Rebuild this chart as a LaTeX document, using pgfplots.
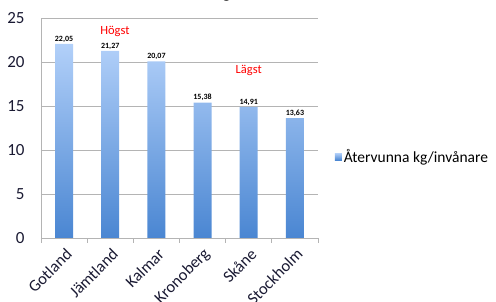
\documentclass[border=0pt]{standalone}
\usepackage{pgfplots}
\pgfplotsset{compat=1.18}
\usepackage{fontspec}
\setmainfont{Carlito}
\definecolor{barTop}{HTML}{B2D0F9}
\definecolor{barBot}{HTML}{4A86D2}
\definecolor{gridc}{HTML}{B4B4B4}
\definecolor{tickc}{HTML}{1A1A33}
\begin{document}
\begin{tikzpicture}[x=1pt,y=1pt]
\useasboundingbox (-41,-64) rectangle (455,238);
\begin{axis}[
  at={(0,0)}, anchor=south west,
  scale only axis, width=277pt, height=220pt,
  xmin=-0.5, xmax=5.5, ymin=0, ymax=25,
  ytick={0,5,...,25},
  ymajorgrids, grid style={gridc, line width=0.8pt},
  axis x line=bottom, axis y line=left,
  axis line style={gridc, line width=0.8pt, -},
  xtick={0,...,5},
  xticklabels={Gotland,Jämtland,Kalmar,Kronoberg,Skåne,Stockholm},
  major x tick style={draw=none},
  minor xtick={-0.5,0.5,...,5.5},
  minor x tick style={gridc, line width=0.8pt},
  minor tick length=5pt,
  tick align=outside,
  major y tick style={draw=none},
  /pgf/number format/assume math mode=true,
  yticklabel style={font=\fontsize{17}{17}\selectfont, text=tickc, inner sep=0pt, xshift=-12pt},
  xticklabel style={font=\fontsize{16.5}{16.5}\selectfont, text=tickc, rotate=45, anchor=east, inner sep=0pt, xshift=-3pt, yshift=-10pt},
  legend style={at={(1.06,0.37)}, anchor=west, draw=none, fill=none, font=\fontsize{15.5}{15.5}\selectfont, inner sep=0pt},
  legend image code/.code={\fill[barBot!75!barTop] (0pt,-3.5pt) rectangle (7pt,3.5pt);},
  clip=false,
]
\addplot[ybar, bar width=18pt, draw=none, top color=barTop, bottom color=barBot, shading=axis,
  nodes near coords,
  every node near coord/.append style={font=\fontsize{8}{8}\selectfont\bfseries, text=black, inner sep=1.5pt},
  nodes near coords style={/pgf/number format/.cd, fixed, fixed zerofill, precision=2, use comma},
  ] coordinates {(0,22.05) (1,21.27) (2,20.07) (3,15.38) (4,14.91) (5,13.63)};
\addlegendentry{Återvunna kg/invånare}
\node[text=red, font=\fontsize{12.5}{12.5}\selectfont] at (axis cs:1.1,23.5) {Högst};
\node[text=red, font=\fontsize{12.5}{12.5}\selectfont] at (axis cs:4.0,19.0) {Lägst};
\end{axis}
\node[font=\fontsize{16}{16}\selectfont\bfseries, anchor=base east] at (258,239.5) {Återvunna kg/invånare};
\end{tikzpicture}
\end{document}
